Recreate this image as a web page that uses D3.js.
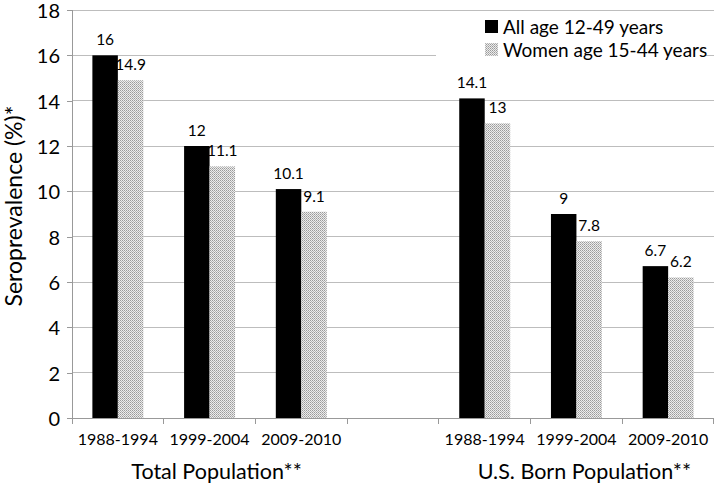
<!DOCTYPE html>
<html><head><meta charset="utf-8">
<script src="https://cdn.jsdelivr.net/npm/d3@7"></script>
<style>
body{margin:0;background:#fff;}
text{font-family:Lato,"Open Sans",sans-serif;fill:#000;}
</style></head>
<body><svg id="c" width="714" height="486"></svg>
<script>
const groups = ["Total Population**", "U.S. Born Population**"];
const periods = ["1988-1994", "1999-2004", "2009-2010"];
const seriesNames = ["All age 12-49 years", "Women age 15-44 years"];
const allAges = [16, 12, 10.1, 14.1, 9, 6.7];
const women = [14.9, 11.1, 9.1, 13, 7.8, 6.2];
const yTicks = [0, 2, 4, 6, 8, 10, 12, 14, 16, 18];

(function(){
const svg = d3.select("#c");
const defs = svg.append("defs");
const pat = defs.append("pattern").attr("id","dots").attr("patternUnits","userSpaceOnUse")
  .attr("width",2).attr("height",2);
pat.append("rect").attr("width",2).attr("height",2).attr("fill","#ececec");
pat.append("rect").attr("width",1).attr("height",1).attr("fill","#9a9a9a");
pat.append("rect").attr("x",1).attr("y",1).attr("width",1).attr("height",1).attr("fill","#b4b4b4");

const pLeft = 72, pRight = 714, pTop = 10, pBottom = 418;
const slots = [];
groups.forEach((g, gi) => {
  periods.forEach((p, pi) => slots.push({key: gi + "-" + pi, gi, pi, label: p}));
  if (gi === 0) slots.push({key: "gap", gi: -1, label: ""});
});
const dataRows = slots.filter(s => s.gi >= 0).map((s, i) => ({...s, v: [allAges[i], women[i]]}));

const x = d3.scaleBand().domain(slots.map(s => s.key)).range([pLeft, pRight]);
const xs = d3.scaleBand().domain([0, 1]).range([0, x.bandwidth()]).paddingInner(0).paddingOuter(0.8);
const y = d3.scaleLinear().domain([0, 18]).range([pBottom, pTop]);

svg.append("g").selectAll("line").data(yTicks.filter(t => t > 0)).join("line")
  .attr("x1", pLeft).attr("x2", pRight).attr("y1", d => y(d)).attr("y2", d => y(d))
  .attr("stroke", "#bdbdbd").attr("stroke-width", 1).attr("shape-rendering","crispEdges");

svg.append("rect").attr("x", 436).attr("y", 13).attr("width", 270).attr("height", 57).attr("fill", "#fff");

const yAxis = svg.append("g").attr("transform", `translate(${pLeft},0)`)
  .call(d3.axisLeft(y).tickValues(yTicks).tickSize(5).tickPadding(7).tickFormat(d3.format("d")));
yAxis.selectAll("line,path").attr("stroke", "#999").attr("shape-rendering","crispEdges");
yAxis.select(".domain").attr("d", `M-5,${pTop}H0V${pBottom}H-5`);
yAxis.selectAll("text").attr("font-size", 20).attr("font-family", "Lato").attr("fill","#000").attr("dy","0.38em");

const boundaries = slots.map(s => x(s.key)).concat([pRight - 1]);
svg.append("line").attr("x1", pLeft).attr("x2", pRight).attr("y1", pBottom).attr("y2", pBottom)
  .attr("stroke", "#999").attr("shape-rendering","crispEdges");
svg.append("g").selectAll("line").data(boundaries).join("line")
  .attr("x1", d => d).attr("x2", d => d).attr("y1", pBottom).attr("y2", pBottom + 6)
  .attr("stroke", "#999").attr("shape-rendering","crispEdges");
svg.append("g").selectAll("text").data(slots.filter(s => s.label)).join("text")
  .attr("x", d => x(d.key) + x.bandwidth() / 2).attr("y", 445)
  .attr("text-anchor", "middle").attr("font-size", 16).text(d => d.label);

groups.forEach((g, gi) => {
  const ks = slots.filter(s => s.gi === gi);
  const cx = (x(ks[0].key) + x(ks[ks.length - 1].key) + x.bandwidth()) / 2;
  svg.append("text").attr("x", cx + (gi === 1 ? 8 : 7)).attr("y", 479).attr("text-anchor", "middle")
    .attr("font-size", 21.5).text(g);
});

const fills = ["#000", "url(#dots)"];
const gBars = svg.append("g");
dataRows.forEach(r => {
  r.v.forEach((v, si) => {
    const bx = x(r.key) + xs(si);
    gBars.append("rect").attr("x", bx).attr("y", y(v)).attr("width", xs.bandwidth())
      .attr("height", pBottom - y(v)).attr("fill", fills[si]);
  });
});
dataRows.forEach(r => {
  r.v.forEach((v, si) => {
    const bx = x(r.key) + xs(si);
    gBars.append("text").attr("x", bx + xs.bandwidth() / 2).attr("y", y(v) - 10)
      .attr("text-anchor", "middle").attr("font-size", 15.5).text(v);
  });
});

svg.append("text").attr("transform", "translate(22,206) rotate(-90)").attr("text-anchor", "middle")
  .attr("font-size", 23).text("Seroprevalence (%)*");

const leg = svg.append("g");
seriesNames.forEach((n, i) => {
  leg.append("rect").attr("x", 485).attr("y", 20 + i * 23).attr("width", 13).attr("height", 13).attr("fill", fills[i]);
  leg.append("text").attr("x", 503).attr("y", 34 + i * 23).attr("font-size", 19).text(n);
});
})();
</script></body></html>
